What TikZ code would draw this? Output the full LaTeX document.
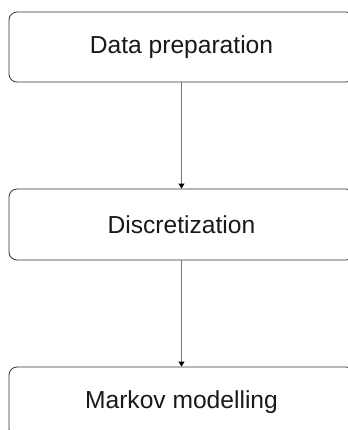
\documentclass[tikz,border=0pt]{standalone}
\usepackage{fontspec}
\setmainfont{Liberation Sans}
\usetikzlibrary{arrows.meta}
\begin{document}
\begin{tikzpicture}[x=1bp,y=-1bp,
  stepbox/.style={draw=black!80, line width=0.8bp, rounded corners=8bp,
    minimum width=345bp, minimum height=70bp, inner sep=0pt,
    font=\fontsize{24.6bp}{29bp}\selectfont, text=black!90},
  conn/.style={draw=black!55, line width=0.9bp,
    -{Triangle[width=6bp,length=5bp,color=black]}}]
\useasboundingbox (0,0) rectangle (348,430);
\node[stepbox] (prep) at (181.5,47) {Data preparation};
\node[stepbox, minimum height=71bp] (disc) at (181.5,224.5) {Discretization};
\node[stepbox] (markov) at (181.5,402) {Markov modelling};
\draw[conn] (prep) -- (disc);
\draw[conn] (disc) -- (markov);
\end{tikzpicture}
\end{document}
